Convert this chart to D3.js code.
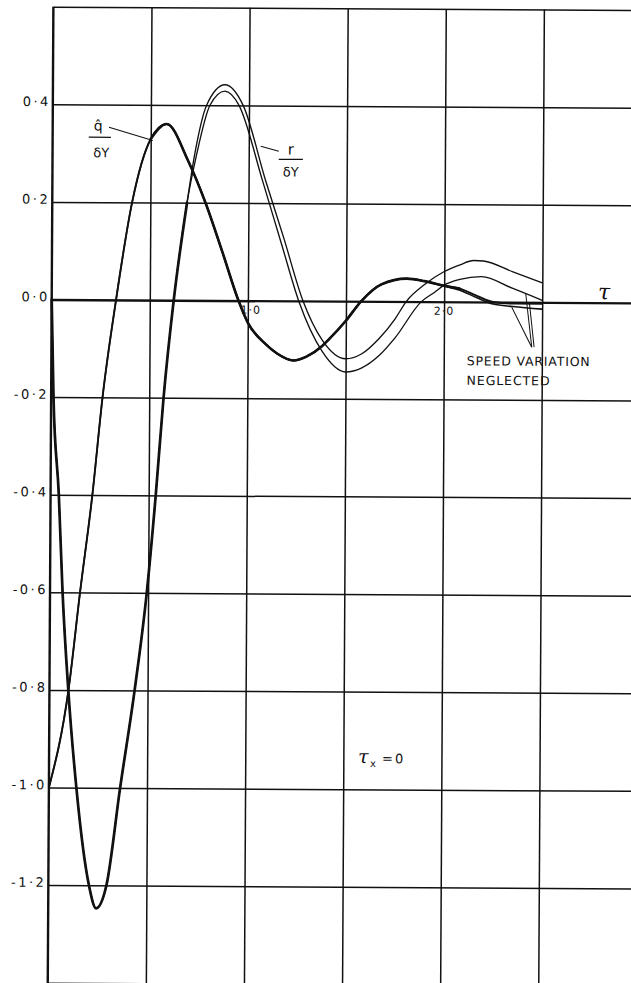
<!DOCTYPE html>
<html>
<head>
<meta charset="utf-8">
<script src="https://cdn.jsdelivr.net/npm/d3@7"></script>
<style>
  html, body { margin: 0; padding: 0; background: #fff; }
  svg { display: block; }
  text { font-family: "DejaVu Sans", sans-serif; fill: #111; }
</style>
</head>
<body>
<svg id="chart" width="631" height="983"></svg>
<script>
// ---------------- data ----------------
// y grid values and their labels
const yTicks = [0.6, 0.4, 0.2, 0.0, -0.2, -0.4, -0.6, -0.8, -1.0, -1.2, -1.4];
const yTickLabels = ["", "0·4", "0·2", "0·0", "-0·2", "-0·4", "-0·6", "-0·8", "-1·0", "-1·2", ""];
// x grid values and labels
const xTicks = [0.5, 1.0, 1.5, 2.0, 2.5];
const xLabelTicks = [1.0, 2.0];
const xTickLabels = ["1·0", "2·0"];

// q̂/δY (with speed variation)
const qHatTau = [0, 0.097, 0.153, 0.213, 0.262, 0.328, 0.407, 0.5, 0.581, 0.691, 0.781, 0.868, 0.952, 1.0, 1.089, 1.15, 1.234, 1.30, 1.38, 1.415, 1.5, 1.577, 1.68, 1.81, 1.9, 2.0, 2.08, 2.17, 2.25, 2.35, 2.5];
const qHat    = [-1.0, -0.8, -0.6, -0.4, -0.2, 0.0, 0.2, 0.33, 0.361, 0.286, 0.2, 0.1, 0.0, -0.045, -0.088, -0.108, -0.122, -0.114, -0.092, -0.078, -0.04, 0.0, 0.035, 0.047, 0.042, 0.033, 0.027, 0.012, 0.0, -0.003, -0.003];
// q̂/δY (speed variation neglected)
const qHatNeglected = [-1.0, -0.8, -0.6, -0.4, -0.2, 0.0, 0.2, 0.33, 0.361, 0.286, 0.2, 0.1, 0.0, -0.045, -0.088, -0.108, -0.122, -0.114, -0.092, -0.078, -0.04, 0.0, 0.035, 0.047, 0.042, 0.032, 0.024, 0.008, -0.004, -0.009, -0.014];

// r/δY (with speed variation)
const rTau = [0, 0.012, 0.042, 0.064, 0.096, 0.14, 0.207, 0.244, 0.296, 0.363, 0.434, 0.493, 0.536, 0.573, 0.622, 0.687, 0.725, 0.784, 0.877, 0.970, 1.087, 1.18, 1.281, 1.38, 1.5, 1.58, 1.67, 1.75, 1.807, 1.9, 2.0, 2.08, 2.15, 2.2, 2.35, 2.5];
const rVal = [0, -0.2, -0.4, -0.6, -0.8, -1.0, -1.2, -1.247, -1.2, -1.0, -0.8, -0.6, -0.4, -0.2, 0.0, 0.2, 0.3, 0.4, 0.442, 0.4, 0.246, 0.13, 0.0, -0.08, -0.118, -0.108, -0.076, -0.036, 0.0, 0.035, 0.062, 0.076, 0.085, 0.084, 0.062, 0.040];
// r/δY (speed variation neglected)
const rNegTau = [0, 0.012, 0.042, 0.064, 0.096, 0.14, 0.207, 0.244, 0.296, 0.363, 0.434, 0.493, 0.536, 0.573, 0.622, 0.687, 0.735, 0.801, 0.877, 0.949, 1.071, 1.17, 1.259, 1.38, 1.5, 1.58, 1.67, 1.75, 1.884, 1.95, 2.0, 2.08, 2.19, 2.35, 2.5];
const rNegVal = [0, -0.2, -0.4, -0.6, -0.8, -1.0, -1.2, -1.247, -1.2, -1.0, -0.8, -0.6, -0.4, -0.2, 0.0, 0.2, 0.3, 0.4, 0.429, 0.4, 0.246, 0.116, 0.0, -0.103, -0.145, -0.137, -0.111, -0.075, 0.0, 0.019, 0.034, 0.046, 0.052, 0.028, 0.004];

// ---------------- scales ----------------
const svg = d3.select("#chart");
const x = d3.scaleLinear().domain([0, 2.5]).range([51.7, 542.2]);
const y = d3.scaleLinear().domain([-1.2, 0.4]).range([885.1, 104.3]);
const xMax = 3.0, yTop = 0.6, yBot = -1.45;

// slight scan skew of the original sheet
const g = svg.append("g").attr("transform", `rotate(0.33, ${x(0)}, ${y(0)})`);

// ---------------- grid via axes ----------------
const yAxis = d3.axisLeft(y)
  .tickValues(yTicks)
  .tickSize(-(x(xMax) - x(0)))
  .tickPadding(6)
  .tickFormat((d, i) => yTickLabels[i]);
const gy = g.append("g").attr("transform", `translate(${x(0)},0)`).call(yAxis);
gy.select(".domain").remove();
gy.selectAll(".tick line")
  .attr("stroke", "#111")
  .attr("stroke-width", d => d === 0 ? 2.4 : 1.5);
gy.selectAll(".tick text")
  .attr("font-size", 13)
  .attr("letter-spacing", 2.5)
  .attr("dy", "0.1em")
  .attr("x", -2)
  .style("fill", "#111");

const xAxis = d3.axisTop(x)
  .tickValues(xTicks)
  .tickSize(-(y(yBot) - y(yTop)))
  .tickFormat("");
const gx = g.append("g").attr("transform", `translate(0,${y(yTop)})`).call(xAxis);
gx.select(".domain").remove();
gx.selectAll(".tick line").attr("stroke", "#111").attr("stroke-width", 1.5);

// left axis line
g.append("line")
  .attr("x1", x(0)).attr("x2", x(0))
  .attr("y1", y(yTop)).attr("y2", y(yBot))
  .attr("stroke", "#111").attr("stroke-width", 2.4);

// x tick labels
const xLabelShift = [3, 0];
g.selectAll(".xlab").data(xLabelTicks).enter().append("text")
  .attr("class", "xlab")
  .attr("x", (d, i) => x(d) + xLabelShift[i])
  .attr("y", y(0) + 13)
  .attr("text-anchor", "middle")
  .attr("font-size", 11)
  .attr("letter-spacing", 1)
  .text((d, i) => xTickLabels[i]);

// ---------------- curves ----------------
const line = d3.line().x(d => x(d[0])).y(d => y(d[1])).curve(d3.curveMonotoneX);
const zip = (t, v) => t.map((tt, i) => [tt, v[i]]);

const rPts = zip(rTau, rVal);
const qPts = zip(qHatTau, qHat);
const curves = [
  { pts: rPts, w: 1.35 },
  { pts: zip(rNegTau, rNegVal), w: 1.35 },
  { pts: qPts, w: 1.9 },
  { pts: zip(qHatTau, qHatNeglected), w: 1.6 },
  // overlapping stretches where both variants coincide read as one heavy line
  { pts: rPts.filter(d => d[0] <= 0.687), w: 2.7 },
  { pts: qPts.filter(d => d[0] >= 0.5 && d[0] <= 2.08), w: 2.6 }
];
g.selectAll(".curve").data(curves).enter().append("path")
  .attr("class", "curve")
  .attr("d", d => line(d.pts))
  .attr("fill", "none")
  .attr("stroke", "#111")
  .attr("stroke-width", d => d.w)
  .attr("stroke-linejoin", "round")
  .attr("stroke-linecap", "round");

// ---------------- annotations ----------------
const ann = g.append("g");
function seg(t1, v1, t2, v2, w) {
  ann.append("line")
    .attr("x1", x(t1)).attr("y1", y(v1))
    .attr("x2", x(t2)).attr("y2", y(v2))
    .attr("stroke", "#111").attr("stroke-width", w || 1.1);
}
function txt(t, v, s, size, opts) {
  const o = opts || {};
  const el = ann.append("text")
    .attr("x", x(t)).attr("y", y(v))
    .attr("font-size", size)
    .text(s);
  if (o.anchor) el.attr("text-anchor", o.anchor);
  if (o.len) el.attr("textLength", o.len).attr("lengthAdjust", "spacing");
  if (o.family) el.style("font-family", o.family);
  if (o.italic) el.attr("font-style", "italic");
  return el;
}

// q̂ / δY label
txt(0.232, 0.347, "q\u0302", 14, { anchor: "middle" });
seg(0.184, 0.333, 0.297, 0.333, 1.3);
txt(0.248, 0.292, "δY", 13, { anchor: "middle" });
seg(0.287, 0.3535, 0.511, 0.327, 1.1);

// r / δY label
txt(1.215, 0.300, "r", 15, { anchor: "middle" });
seg(1.153, 0.290, 1.276, 0.290, 1.3);
txt(1.215, 0.255, "δY", 13, { anchor: "middle" });
seg(1.061, 0.3166, 1.153, 0.3063, 1.1);

// axis symbol tau
txt(2.785, 0.007, "τ", 22, { family: "DejaVu Serif", italic: true });

// tau_x = 0
txt(1.575, -0.946, "τ", 19, { family: "DejaVu Serif", italic: true });
ann.append("text").attr("x", x(1.575) + 12).attr("y", y(-0.946) + 4)
  .attr("font-size", 10).text("x");
ann.append("text").attr("x", x(1.575) + 24).attr("y", y(-0.946))
  .attr("font-size", 13).text("=");
ann.append("text").attr("x", x(1.575) + 37).attr("y", y(-0.946))
  .attr("font-size", 13).text("0");

// speed variation neglected
txt(2.117, -0.130, "SPEED VARIATION", 12.5, { len: 123 });
txt(2.117, -0.170, "NEGLECTED", 12.5, { len: 83 });
seg(2.448, -0.092, 2.345, -0.0106, 1.0);
seg(2.448, -0.092, 2.416, 0.0169, 1.0);
seg(2.46, -0.092, 2.435, -0.0015, 1.0);
</script>
</body>
</html>
